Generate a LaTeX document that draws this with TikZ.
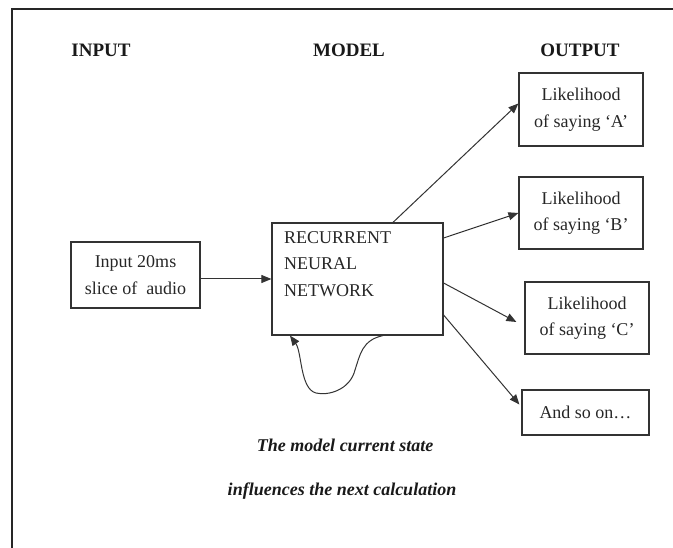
\documentclass[tikz,border=0pt]{standalone}
\usepackage{fontspec}
\setmainfont{Liberation Serif}
\usetikzlibrary{arrows.meta}

\begin{document}
\begin{tikzpicture}[x=1pt,y=-1pt]
\tikzset{boite/.style={draw=black!80, line width=1.2pt, inner sep=0pt, align=center, text=black!85, font=\fontsize{18}{26.5}\selectfont},
titre/.style={anchor=base, font=\fontsize{19}{23}\selectfont\bfseries, text=black!90},
legende/.style={anchor=base, font=\fontsize{18}{22}\selectfont\bfseries\itshape, text=black!90},
fleche/.style={draw=black!80, line width=1pt, -{Triangle[length=10pt,width=8pt]}}}
\useasboundingbox (0,0) rectangle (673,548);
\draw[line width=1.6pt, black!85] (673,9) -- (12,9) -- (12,548);
\node[titre] (tinput) at (101,57) {INPUT};
\node[titre] (tmodel) at (349,57) {MODEL};
\node[titre] (toutput) at (580,57) {OUTPUT};
\node[boite, minimum width=129pt, minimum height=66pt] (inp) at (135.5,275) {Input 20ms\\slice of\ \ audio};
\node[boite, minimum width=171pt, minimum height=112pt] (rnn) at (357.5,279) {};
\node[anchor=north west, inner sep=0pt, align=left, text=black!85, font=\fontsize{18}{26.5}\selectfont] (rnntexte) at (284,231) {RECURRENT\\NEURAL\\NETWORK};
\node[boite, minimum width=124pt, minimum height=73pt] (a) at (581,109.5) {Likelihood\\of saying `A'};
\node[boite, minimum width=124pt, minimum height=72pt] (b) at (581,213) {Likelihood\\of saying `B'};
\node[boite, minimum width=124pt, minimum height=72pt] (c) at (587,318) {Likelihood\\of saying `C'};
\node[boite, minimum width=127pt, minimum height=45pt] (d) at (585.5,412.5) {And so on\dots};
\node[legende] (leg1) at (345,452) {The model current state};
\node[legende] (leg2) at (342,495) {influences the next calculation};
\draw[fleche] (inp.east |- rnn.west) -- (rnn.west);
\draw[fleche] ([xshift=35.5pt]rnn.north) -- ([yshift=6pt]a.west);
\draw[fleche] ([yshift=41pt]rnn.east) -- (b.west);
\draw[fleche] ([yshift=-4pt]rnn.east) -- ([xshift=-8pt,yshift=-4pt]c.west);
\draw[fleche] ([yshift=-36pt]rnn.east) -- ([xshift=-2pt,yshift=8pt]d.west);
\draw[fleche] ([xshift=25.5pt]rnn.south) .. controls (362,340) and (360,355) .. (355,370) .. controls (350,390) and (328,396) .. (316,393) .. controls (300,389) and (302,352) .. ([xshift=-67.5pt]rnn.south);
\end{tikzpicture}
\end{document}
